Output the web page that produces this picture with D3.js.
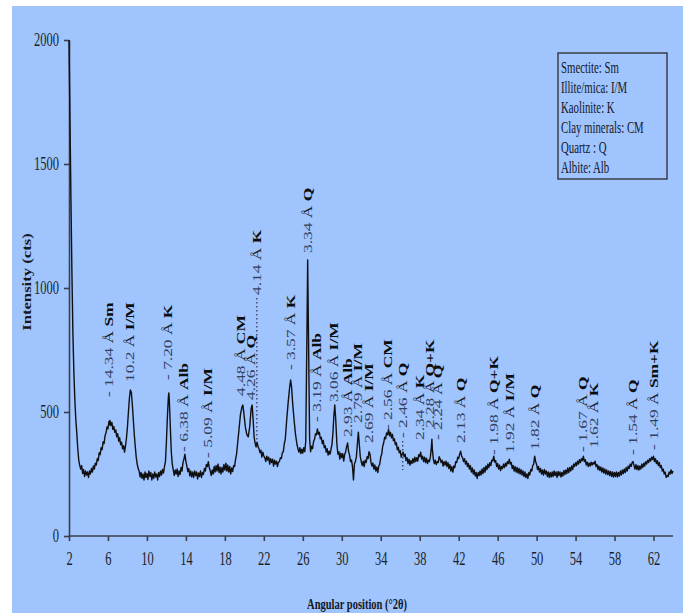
<!DOCTYPE html>
<meta charset="UTF-8">
<style>
	body { margin: 0; background: #fff; }
	svg { display: block; font-family: "Liberation Serif", "Times New Roman", serif; }
	.axis path, .axis line { stroke: #3a3f4a; stroke-width: 1.6px; }
	.axis text { font-family: "Liberation Serif", "Times New Roman", serif; font-size: 12.5px; fill: #1c1f26; }
	.trace { fill: none; stroke: #101010; stroke-width: 1.4px; stroke-linejoin: round; }
	.legend rect { fill: none; stroke: #3a3f4a; stroke-width: 1.5px; }
	.legend text { font-size: 10.8px; fill: #15181f; }
	.peak text { font-size: 12px; white-space: pre; }
	.peak .num { fill: #34405a; }
	.peak .ang { fill: #1a1d24; }
	.peak .min { fill: #0d0d0d; font-weight: bold; }
	.leader { stroke: #2b2f38; stroke-width: 1.2px; stroke-dasharray: 1.5 2.5; }
	.title { font-weight: bold; fill: #15181f; }
</style>
<body>
<script src="https://cdn.jsdelivr.net/npm/d3@7"></script>
<script>

	// diffractogram: [2theta, counts]
	const scan = [
		[2.0, 2000], [2.1, 1680], [2.2, 1355], [2.3, 1060], [2.4, 818], [2.5, 660], [2.6, 548], [2.7, 470],
		[2.8, 415], [2.9, 352], [3.0, 306], [3.1, 285], [3.2, 270], [3.3, 284], [3.4, 252], [3.5, 268],
		[3.6, 240], [3.7, 262], [3.8, 246], [3.9, 258], [4.0, 236], [4.1, 262], [4.2, 250], [4.3, 272],
		[4.4, 258], [4.5, 282], [4.6, 270], [4.7, 294], [4.8, 286], [4.9, 312], [5.0, 304], [5.1, 336],
		[5.2, 328], [5.3, 356], [5.4, 348], [5.5, 380], [5.6, 372], [5.7, 405], [5.8, 415], [5.9, 440],
		[6.0, 432], [6.1, 462], [6.15, 448], [6.2, 466], [6.3, 445], [6.4, 458], [6.5, 430], [6.6, 442],
		[6.7, 418], [6.8, 428], [6.9, 400], [7.0, 412], [7.1, 382], [7.2, 396], [7.3, 368], [7.4, 378],
		[7.5, 352], [7.6, 364], [7.7, 338], [7.8, 362], [7.9, 395], [8.0, 440], [8.1, 500], [8.2, 555],
		[8.3, 589], [8.4, 580], [8.5, 530], [8.6, 470], [8.7, 410], [8.8, 362], [8.9, 318], [9.0, 290],
		[9.1, 272], [9.2, 262], [9.3, 238], [9.4, 256], [9.5, 232], [9.6, 250], [9.7, 226], [9.8, 258],
		[9.9, 236], [10.0, 252], [10.1, 228], [10.2, 262], [10.3, 240], [10.4, 256], [10.5, 226], [10.6, 250],
		[10.7, 232], [10.8, 258], [10.9, 238], [11.0, 250], [11.1, 226], [11.2, 256], [11.3, 240], [11.4, 262],
		[11.5, 246], [11.6, 268], [11.7, 254], [11.8, 280], [11.9, 300], [12.0, 380], [12.1, 480], [12.2, 560],
		[12.25, 577], [12.3, 545], [12.4, 440], [12.5, 340], [12.6, 290], [12.7, 268], [12.8, 244], [12.9, 266],
		[13.0, 250], [13.1, 270], [13.2, 240], [13.3, 262], [13.4, 248], [13.5, 276], [13.6, 262], [13.7, 296],
		[13.8, 310], [13.9, 330], [14.0, 300], [14.1, 282], [14.2, 260], [14.3, 272], [14.4, 242], [14.5, 262],
		[14.6, 238], [14.7, 258], [14.8, 236], [14.9, 262], [15.0, 244], [15.1, 258], [15.2, 230], [15.3, 254],
		[15.4, 240], [15.5, 262], [15.6, 236], [15.7, 256], [15.8, 248], [15.9, 272], [16.0, 262], [16.1, 288],
		[16.2, 280], [16.3, 300], [16.4, 276], [16.5, 262], [16.6, 244], [16.7, 266], [16.8, 250], [16.9, 280],
		[17.0, 258], [17.1, 284], [17.2, 262], [17.3, 290], [17.4, 256], [17.5, 278], [17.6, 250], [17.7, 276],
		[17.8, 258], [17.9, 288], [18.0, 266], [18.1, 294], [18.2, 262], [18.3, 286], [18.4, 258], [18.5, 280],
		[18.6, 250], [18.7, 274], [18.8, 260], [18.9, 284], [19.0, 280], [19.1, 310], [19.2, 330], [19.3, 370],
		[19.45, 430], [19.6, 490], [19.75, 520], [19.85, 528], [19.95, 495], [20.1, 440], [20.25, 410], [20.4, 400],
		[20.55, 440], [20.7, 515], [20.8, 528], [20.9, 470], [21.0, 400], [21.1, 375], [21.2, 360], [21.3, 378],
		[21.4, 362], [21.5, 352], [21.6, 336], [21.7, 346], [21.8, 318], [21.9, 338], [22.0, 322], [22.1, 316],
		[22.2, 300], [22.3, 322], [22.4, 306], [22.5, 318], [22.6, 290], [22.7, 312], [22.8, 296], [22.9, 310],
		[23.0, 282], [23.1, 306], [23.2, 290], [23.3, 302], [23.4, 280], [23.5, 298], [23.6, 300], [23.7, 316],
		[23.8, 312], [23.9, 336], [24.0, 340], [24.1, 372], [24.2, 390], [24.35, 470], [24.5, 540], [24.65, 600],
		[24.75, 629], [24.85, 600], [24.95, 540], [25.1, 470], [25.25, 410], [25.4, 370], [25.5, 352], [25.6, 338],
		[25.7, 356], [25.8, 332], [25.9, 350], [26.0, 334], [26.1, 356], [26.2, 340], [26.3, 380], [26.42, 800],
		[26.5, 1113], [26.58, 820], [26.7, 390], [26.8, 340], [26.9, 362], [27.0, 352], [27.1, 380], [27.2, 390],
		[27.3, 412], [27.4, 408], [27.5, 432], [27.6, 410], [27.7, 418], [27.8, 392], [27.9, 398], [28.0, 372],
		[28.1, 385], [28.2, 356], [28.3, 364], [28.4, 338], [28.5, 352], [28.6, 326], [28.7, 342], [28.8, 330],
		[28.9, 350], [29.0, 370], [29.1, 420], [29.18, 480], [29.28, 528], [29.38, 470], [29.5, 370], [29.6, 330],
		[29.7, 340], [29.8, 310], [29.9, 334], [30.0, 316], [30.1, 332], [30.2, 302], [30.3, 330], [30.4, 340],
		[30.5, 360], [30.6, 375], [30.7, 340], [30.8, 326], [30.9, 300], [31.0, 306], [31.1, 280], [31.2, 226],
		[31.3, 290], [31.4, 300], [31.5, 320], [31.6, 370], [31.7, 419], [31.8, 370], [31.9, 320], [32.0, 300],
		[32.1, 284], [32.2, 302], [32.3, 280], [32.4, 306], [32.5, 296], [32.6, 320], [32.7, 312], [32.8, 340],
		[32.9, 330], [33.0, 296], [33.1, 282], [33.2, 294], [33.3, 270], [33.4, 286], [33.5, 262], [33.6, 278],
		[33.7, 256], [33.8, 282], [33.9, 290], [34.0, 318], [34.1, 330], [34.2, 362], [34.3, 375], [34.4, 398],
		[34.5, 392], [34.6, 416], [34.7, 408], [34.8, 430], [34.9, 404], [35.0, 418], [35.1, 396], [35.2, 410],
		[35.3, 384], [35.4, 392], [35.5, 368], [35.6, 376], [35.7, 348], [35.8, 358], [35.9, 336], [36.0, 344],
		[36.1, 318], [36.2, 330], [36.3, 338], [36.4, 320], [36.5, 330], [36.6, 304], [36.7, 316], [36.8, 292],
		[36.9, 310], [37.0, 286], [37.1, 304], [37.2, 292], [37.3, 312], [37.4, 296], [37.5, 318], [37.6, 300],
		[37.7, 316], [37.8, 302], [37.9, 328], [38.0, 320], [38.1, 338], [38.2, 310], [38.3, 322], [38.4, 300],
		[38.5, 318], [38.6, 296], [38.7, 314], [38.8, 292], [38.9, 306], [39.0, 300], [39.1, 320], [39.2, 360],
		[39.25, 390], [39.3, 350], [39.4, 310], [39.5, 292], [39.6, 306], [39.7, 288], [39.8, 300], [39.9, 296],
		[40.0, 320], [40.1, 310], [40.2, 296], [40.3, 306], [40.4, 282], [40.5, 300], [40.6, 286], [40.7, 302],
		[40.8, 280], [40.9, 296], [41.0, 272], [41.1, 288], [41.2, 262], [41.3, 280], [41.4, 258], [41.5, 282],
		[41.6, 276], [41.7, 300], [41.8, 296], [41.9, 318], [42.0, 312], [42.1, 330], [42.2, 342], [42.3, 322],
		[42.4, 316], [42.5, 300], [42.6, 312], [42.7, 290], [42.8, 302], [42.9, 280], [43.0, 292], [43.1, 270],
		[43.2, 284], [43.3, 258], [43.4, 274], [43.5, 250], [43.6, 266], [43.7, 242], [43.8, 256], [43.9, 232],
		[44.0, 256], [44.1, 244], [44.2, 262], [44.3, 246], [44.4, 270], [44.5, 252], [44.6, 276], [44.7, 258],
		[44.8, 282], [44.9, 268], [45.0, 290], [45.1, 276], [45.2, 296], [45.3, 284], [45.4, 306], [45.5, 302],
		[45.6, 322], [45.7, 298], [45.8, 304], [45.9, 280], [46.0, 292], [46.1, 270], [46.2, 286], [46.3, 264],
		[46.4, 280], [46.5, 272], [46.6, 290], [46.7, 276], [46.8, 294], [46.9, 282], [47.0, 300], [47.1, 292],
		[47.2, 310], [47.3, 290], [47.4, 296], [47.5, 272], [47.6, 284], [47.7, 262], [47.8, 280], [47.9, 258],
		[48.0, 276], [48.1, 254], [48.2, 272], [48.3, 250], [48.4, 268], [48.5, 246], [48.6, 262], [48.7, 240],
		[48.8, 258], [48.9, 236], [49.0, 250], [49.1, 232], [49.2, 256], [49.3, 246], [49.4, 268], [49.5, 262],
		[49.6, 284], [49.7, 290], [49.8, 322], [49.9, 300], [50.0, 288], [50.1, 268], [50.2, 280], [50.3, 258],
		[50.4, 272], [50.5, 250], [50.6, 266], [50.7, 246], [50.8, 268], [50.9, 250], [51.0, 262], [51.1, 240],
		[51.2, 258], [51.3, 236], [51.4, 256], [51.5, 238], [51.6, 258], [51.7, 240], [51.8, 262], [51.9, 244],
		[52.0, 258], [52.1, 236], [52.2, 260], [52.3, 244], [52.4, 258], [52.5, 238], [52.6, 256], [52.7, 242],
		[52.8, 264], [52.9, 248], [53.0, 266], [53.1, 252], [53.2, 274], [53.3, 256], [53.4, 276], [53.5, 262],
		[53.6, 282], [53.7, 268], [53.8, 290], [53.9, 280], [54.0, 296], [54.1, 284], [54.2, 302], [54.3, 290],
		[54.4, 308], [54.5, 296], [54.6, 312], [54.7, 304], [54.8, 322], [54.9, 300], [55.0, 308], [55.1, 286],
		[55.2, 298], [55.3, 280], [55.4, 294], [55.5, 282], [55.6, 298], [55.7, 286], [55.8, 296], [55.9, 290],
		[56.0, 302], [56.1, 280], [56.2, 288], [56.3, 268], [56.4, 282], [56.5, 264], [56.6, 278], [56.7, 258],
		[56.8, 274], [56.9, 254], [57.0, 270], [57.1, 250], [57.2, 266], [57.3, 248], [57.4, 262], [57.5, 244],
		[57.6, 260], [57.7, 240], [57.8, 258], [57.9, 238], [58.0, 256], [58.1, 240], [58.2, 258], [58.3, 238],
		[58.4, 256], [58.5, 242], [58.6, 262], [58.7, 246], [58.8, 266], [58.9, 252], [59.0, 270], [59.1, 256],
		[59.2, 276], [59.3, 262], [59.4, 282], [59.5, 272], [59.6, 290], [59.7, 280], [59.8, 296], [59.9, 300],
		[60.0, 284], [60.1, 270], [60.2, 288], [60.3, 268], [60.4, 284], [60.5, 266], [60.6, 282], [60.7, 270],
		[60.8, 290], [60.9, 276], [61.0, 294], [61.1, 282], [61.2, 300], [61.3, 290], [61.4, 306], [61.5, 296],
		[61.6, 312], [61.7, 302], [61.8, 318], [61.9, 308], [62.0, 322], [62.1, 300], [62.2, 312], [62.3, 292],
		[62.4, 304], [62.5, 284], [62.6, 296], [62.7, 276], [62.8, 284], [62.9, 262], [63.0, 270], [63.1, 250],
		[63.2, 258], [63.3, 236], [63.4, 244], [63.5, 240], [63.6, 258], [63.7, 250], [63.8, 266], [63.9, 252],
		[64.0, 262]
	];

	// reflections: dash, d-spacing, phase, 2theta, counts where the label starts, leader end (counts)
	const peaks = [
		["- ", "14.34", "Sm", 6.10, 560],
		["", "10.2", "I/M", 8.26, 621],
		["- ", "7.20", "K", 12.15, 629],
		["- ", "6.38", "Alb", 13.79, 339],
		["- ", "5.09", "I/M", 16.26, 315],
		["", "4.48", "CM", 19.64, 565],
		["", "4.26", "Q", 20.67, 548],
		["", "4.14", "K", 21.28, 972, 355],
		["- ", "3.57", "K", 24.77, 669],
		["", "3.34", "Q", 26.51, 1141],
		["- ", "3.19", "Alb", 27.44, 460],
		["", "3.06", "I/M", 29.18, 540],
		["", "2.93", "Alb", 30.62, 399],
		["", "2.79", "I/M", 31.64, 456],
		["", "2.69", "I/M", 32.77, 375],
		["- ", "2.56", "CM", 34.72, 427],
		["- ", "2.46", "Q", 36.26, 395, 266],
		["", "2.34", "K", 38.0, 387],
		["", "2.28", "Q+K", 39.03, 435],
		["- ", "2.24", "Q", 39.85, 387],
		["", "2.13", "Q", 42.21, 375],
		["- ", "1.98", "Q+K", 45.59, 327],
		["", "1.92", "I/M", 47.23, 335],
		["", "1.82", "Q", 49.79, 347],
		["- ", "1.67", "Q", 54.72, 339],
		["", "1.62", "K", 55.85, 355],
		["- ", "1.54", "Q", 59.85, 327],
		["- ", "1.49", "Sm+K", 62.0, 347]
	];

	const legendItems = ["Smectite: Sm", "Illite/mica: I/M", "Kaolinite: K", "Clay minerals: CM", "Quartz : Q", "Albite: Alb"];
	const xTicks = [2, 6, 10, 14, 18, 22, 26, 30, 34, 38, 42, 46, 50, 54, 58, 62];
	const yTicks = [0, 500, 1000, 1500, 2000];

	var width = 688, height = 614,
		stretch = 1.45; // the original picture is squeezed horizontally

	var svg = d3.select("body").append("svg")
		.attr("width", width)
		.attr("height", height);

	svg.append("rect")
		.attr("x", 12).attr("y", 6)
		.attr("width", 671).attr("height", 607)
		.attr("fill", "#9fc4fe");

	var x = d3.scaleLinear().domain([2, 64]).range([69, 673]);
	var y = d3.scaleLinear().domain([0, 2000]).range([536, 40]);

	// axes
	var gy = svg.append("g")
		.attr("class", "axis")
		.attr("transform", "translate(69,0)")
		.call(d3.axisLeft(y).tickValues(yTicks).tickFormat(d3.format("d"))
			.tickSize(5).tickSizeOuter(0).tickPadding(5));
	gy.selectAll("text").attr("transform", `scale(1,${stretch})`);

	var gx = svg.append("g")
		.attr("class", "axis")
		.attr("transform", "translate(0,536)")
		.call(d3.axisBottom(x).tickValues(xTicks).tickSize(5).tickSizeOuter(0).tickPadding(6));
	gx.selectAll("text").attr("transform", `scale(1,${stretch})`);
	gx.select(".domain").attr("d", `M${x(2)},0H${x(64)}`);

	svg.append("text")
		.attr("class", "title")
		.attr("text-anchor", "middle")
		.attr("font-size", 10.5)
		.attr("transform", `translate(357,609) scale(1,${stretch})`)
		.text("Angular position (°2θ)");

	svg.append("text")
		.attr("class", "title")
		.attr("text-anchor", "middle")
		.attr("font-size", 11.5)
		.attr("dy", "0.35em")
		.attr("transform", `translate(27,282) rotate(-90) scale(${stretch},1)`)
		.text("Intensity (cts)");

	// trace
	var line = d3.line()
		.x(d => x(d[0]))
		.y(d => y(d[1]));

	svg.append("path")
		.datum(scan)
		.attr("class", "trace")
		.attr("d", line);

	// dotted leaders
	svg.selectAll("line.leader")
		.data(peaks.filter(p => p[5] != null))
		.enter().append("line")
		.attr("class", "leader")
		.attr("x1", d => x(d[3])).attr("x2", d => x(d[3]))
		.attr("y1", d => y(d[4]) + 3).attr("y2", d => y(d[5]));

	// peak labels
	var labels = svg.selectAll("g.peak")
		.data(peaks)
		.enter().append("g")
		.attr("class", "peak")
		.attr("transform", d => `translate(${x(d[3])},${y(d[4])}) rotate(-90) scale(${stretch},1)`);

	var t = labels.append("text").attr("dy", "0.35em");
	t.append("tspan").attr("class", "num").text(d => d[0] + d[1]);
	t.append("tspan").attr("class", "ang").text(" Å ");
	t.append("tspan").attr("class", "min").text(d => d[2]);

	// legend
	var legend = svg.append("g").attr("class", "legend");
	legend.append("rect")
		.attr("x", 558).attr("y", 53)
		.attr("width", 109).attr("height", 126);
	legend.selectAll("text")
		.data(legendItems)
		.enter().append("text")
		.attr("transform", (d, i) => `translate(561,${73 + i * 20}) scale(1,${stretch})`)
		.text(d => d);

</script>
</body>
